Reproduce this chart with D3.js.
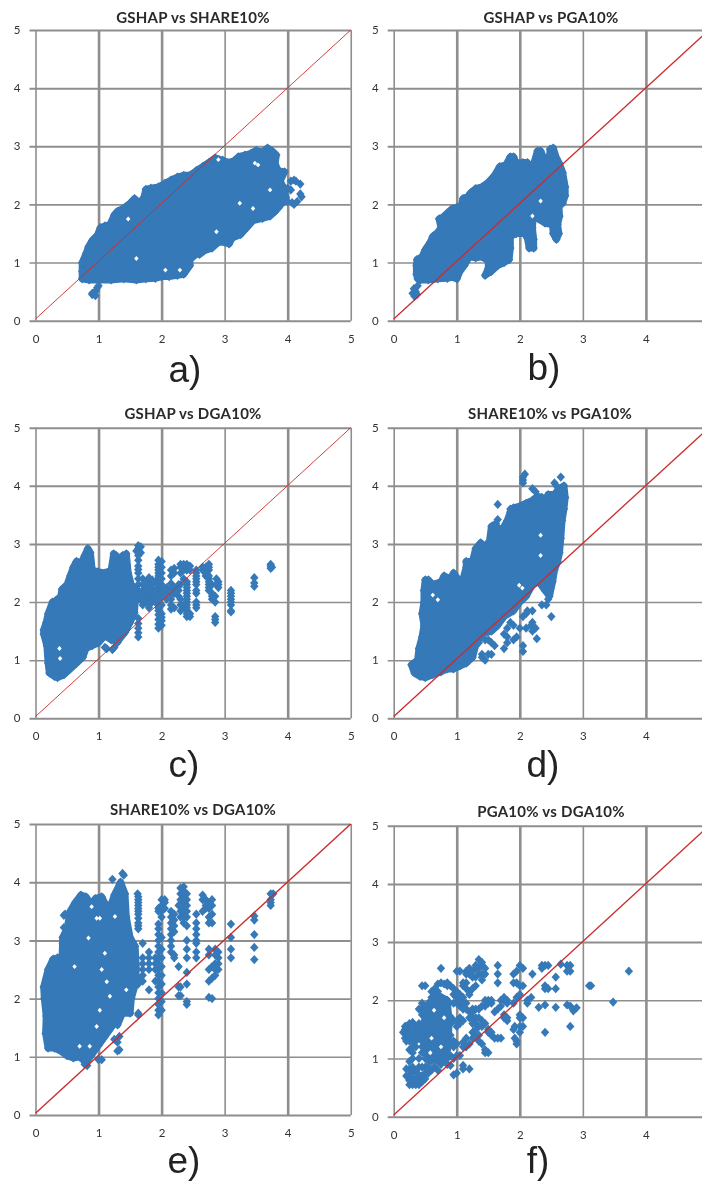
<!DOCTYPE html>
<html><head><meta charset="utf-8">
<script src="https://cdn.jsdelivr.net/npm/d3@7/dist/d3.min.js"></script>
<style>html,body{margin:0;padding:0;background:#fff;overflow:hidden}svg{display:block}</style>
</head><body>
<svg id="c" width="702" height="1182"></svg>
<script>
const titles=["GSHAP vs SHARE10%","GSHAP vs PGA10%","GSHAP vs DGA10%","SHARE10% vs PGA10%","SHARE10% vs DGA10%","PGA10% vs DGA10%"];
const letters=["a)","b)","c)","d)","e)","f)"];
const xTicks=[[0,1,2,3,4,5],[0,1,2,3,4],[0,1,2,3,4,5],[0,1,2,3,4],[0,1,2,3,4,5],[0,1,2,3,4]];
const yTicks=[0,1,2,3,4,5];
const refLine=[[0,0.03],[5,5]];

// Outlines of the saturated part of each cloud
const bodyA=[[.74,.72],[.74,.85],[.74,1],[.8,1.15],[.84,1.27],[.9,1.38],[.98,1.47],[1.03,1.6],[1.1,1.63],[1.18,1.65],[1.25,1.82],[1.3,1.88],[1.42,1.95],[1.5,2.02],[1.57,2.1],[1.65,2.02],[1.72,2.12],[1.75,2.26],[1.83,2.28],[1.95,2.3],[2.05,2.36],[2.15,2.42],[2.25,2.47],[2.35,2.5],[2.45,2.5],[2.55,2.58],[2.65,2.65],[2.75,2.72],[2.85,2.8],[2.97,2.76],[3.05,2.72],[3.15,2.75],[3.22,2.82],[3.32,2.85],[3.42,2.88],[3.5,2.93],[3.6,2.9],[3.68,2.97],[3.75,2.92],[3.82,2.85],[3.8,2.7],[3.85,2.58],[3.95,2.56],[3.88,2.4],[3.93,2.3],[3.97,2.12],[3.9,2.12],[3.88,1.98],[3.8,1.88],[3.72,1.8],[3.6,1.76],[3.45,1.72],[3.35,1.6],[3.25,1.48],[3.12,1.42],[3.07,1.32],[3,1.35],[2.9,1.35],[2.8,1.25],[2.67,1.2],[2.6,1.14],[2.55,1.15],[2.45,1.05],[2.45,.95],[2.35,.8],[2.25,.78],[2.12,.76],[2,.76],[1.9,.73],[1.75,.72],[1.6,.7],[1.4,.72],[1.2,.7],[1,.7],[.85,.7]];
const bodyB=[[.38,.72],[.36,.8],[.36,.95],[.37,1.05],[.45,1.1],[.5,1.22],[.58,1.35],[.62,1.45],[.7,1.52],[.75,1.6],[.72,1.75],[.78,1.78],[.85,1.85],[.92,1.92],[1,1.95],[1.05,1.9],[1.1,2.1],[1.17,2.13],[1.22,2.2],[1.3,2.27],[1.4,2.3],[1.5,2.38],[1.6,2.5],[1.68,2.65],[1.78,2.68],[1.85,2.82],[1.9,2.82],[1.95,2.7],[2.05,2.72],[2.12,2.72],[2.17,2.6],[2.22,2.7],[2.28,2.92],[2.33,2.92],[2.38,2.8],[2.42,2.65],[2.47,2.8],[2.48,2.95],[2.53,2.97],[2.58,2.8],[2.63,2.7],[2.68,2.55],[2.72,2.3],[2.72,2.15],[2.68,2.02],[2.62,2],[2.63,1.8],[2.6,1.65],[2.62,1.5],[2.58,1.4],[2.53,1.5],[2.52,1.65],[2.4,1.68],[2.3,1.75],[2.22,1.85],[2.2,1.6],[2.22,1.4],[2.22,1.25],[2.15,1.25],[2.12,1.42],[2.08,1.5],[1.95,1.5],[1.85,1.45],[1.85,1.25],[1.83,1.05],[1.75,1],[1.65,.95],[1.55,.85],[1.45,.78],[1.5,.9],[1.5,1.03],[1.4,1.1],[1.3,1.08],[1.2,1.1],[1.12,.95],[1.05,.85],[1,.72],[.95,.75],[.85,.73],[.7,.72],[.55,.7],[.42,.7]];
const bodyC=[[.3,.72],[.22,.78],[.2,.95],[.18,1.25],[.13,1.45],[.13,1.52],[.17,1.65],[.2,1.8],[.27,2],[.32,2.02],[.4,2.1],[.42,2.22],[.5,2.3],[.55,2.45],[.6,2.6],[.65,2.7],[.73,2.68],[.78,2.8],[.83,2.92],[.87,2.85],[.9,2.55],[1,2.52],[1.1,2.5],[1.2,2.55],[1.24,2.83],[1.28,2.8],[1.32,2.55],[1.38,2.8],[1.44,2.83],[1.47,2.5],[1.52,2.3],[1.58,2.2],[1.58,2],[1.57,1.82],[1.5,1.65],[1.42,1.48],[1.3,1.32],[1.2,1.35],[1.1,1.42],[1,1.3],[.9,1.25],[.8,1.2],[.75,1.05],[.65,.95],[.55,.85],[.45,.75],[.35,.7]];
const bodyD=[[.42,.72],[.33,.78],[.28,.92],[.38,1],[.4,1.2],[.45,1.4],[.48,1.6],[.45,1.8],[.48,2],[.48,2.2],[.5,2.38],[.55,2.38],[.62,2.3],[.75,2.35],[.8,2.45],[.9,2.4],[.95,2.5],[1.05,2.35],[1.1,2.4],[1.15,2.6],[1.15,2.7],[1.25,2.7],[1.3,2.92],[1.38,3.02],[1.45,2.95],[1.52,3.05],[1.55,3.3],[1.62,3.35],[1.65,3.2],[1.75,3.3],[1.8,3.4],[1.85,3.55],[1.9,3.62],[2,3.65],[2.1,3.7],[2.2,3.75],[2.28,3.82],[2.35,3.8],[2.42,3.7],[2.45,3.85],[2.55,3.85],[2.62,3.95],[2.7,4],[2.72,3.8],[2.7,3.6],[2.67,3.4],[2.65,3.1],[2.63,2.85],[2.6,2.7],[2.55,2.55],[2.52,2.35],[2.47,2.1],[2.4,2.2],[2.3,2.35],[2.2,2.3],[2.1,2.1],[2,2],[1.9,1.85],[1.75,1.75],[1.65,1.6],[1.55,1.5],[1.4,1.45],[1.3,1.25],[1.25,1.05],[1.15,.95],[1.05,.9],[.95,.85],[.85,.85],[.75,.8],[.62,.75],[.5,.7]];
const bodyE=[[.2,1.15],[.16,1.4],[.17,1.7],[.14,2],[.13,2.2],[.2,2.5],[.28,2.68],[.35,2.7],[.42,2.7],[.43,2.95],[.43,3.05],[.5,3.2],[.55,3.5],[.63,3.65],[.72,3.78],[.8,3.75],[.88,3.62],[.95,3.72],[1.05,3.75],[1.12,3.6],[1.2,3.62],[1.25,3.78],[1.35,4],[1.42,3.8],[1.44,3.4],[1.5,3.05],[1.58,2.9],[1.6,2.5],[1.57,2.2],[1.52,2],[1.5,1.75],[1.38,1.75],[1.3,1.55],[1.25,1.6],[1.2,1.5],[1.1,1.35],[1,1.2],[.9,1.05],[.8,.9],[.7,1],[.6,.98],[.5,1.02],[.4,1.1],[.3,1.15]];
const bodyF=[[.5,1.1],[.45,1.5],[.55,1.85],[.68,2.1],[.85,2],[.88,1.6],[.85,1.15],[.72,.95],[.6,1]];

// Individual markers, as [x, [y, y, ...]] columns
const ptsA=[[.9,[.45,.47]],[.93,[.48]],[.95,[.43]],[.96,[.52]],[.98,[.57]],[1,[.6]],[3.95,[2.05]],[4,[2.05,2.28]],[4.05,[2.25,2.4]],[4.07,[2.03]],[4.1,[2,2.42]],[4.13,[2.4]],[4.15,[2.05]],[4.2,[2.18,2.35]],[4.22,[2.13]]];
const ptsB=[[.3,[.47]],[.32,[.55]],[.33,[.42]],[.35,[.5]],[.37,[.45]],[.38,[.6]]];
const ptsC=[[1.1,[1.22]],[1.13,[1.2]],[1.22,[1.18]],[1.25,[1.22]],[1.3,[1.3]],[1.6,[2.88]],[1.63,[1.4,1.47,1.55,1.63,1.72,2.05,2.1,2.2,2.3,2.4,2.5,2.56,2.62,2.72,2.8,2.85,2.92,2.97]],[1.67,[2.85,2.95,2.05,2.15]],[1.7,[1.95,2,2.1,2.2,2.3,2.4]],[1.75,[2,2.05,2.12,2.2,2.28,2.35]],[1.8,[1.9,1.96,2.04,2.1,2.2,2.3,2.42]],[1.85,[2,2.08,2.15,2.22,2.3,2.38]],[1.9,[2,2.1,2.2,2.35]],[1.95,[1.55,1.62,1.7,1.78,1.85,1.9,1.95,2.05,2.1,2.15,2.25,2.3,2.35,2.4,2.45,2.5,2.55,2.6,2.65,2.72]],[2,[1.6,1.68,1.74,1.8,1.95,2.1,2.2,2.3,2.4,2.5,2.6,2.7]],[2.08,[2.05,2.15,2.25]],[2.15,[1.88,1.95,2.05,2.12,2.22,2.32,2.45,2.55]],[2.2,[1.9,2.15,2.25,2.5,2.58]],[2.27,[2.1,2.2,2.3]],[2.3,[1.85,1.95,2.05,2.3,2.5,2.6,2.65]],[2.35,[1.9,1.95,2.4,2.55,2.65]],[2.4,[1.75,1.8,1.85,1.9,1.95,2,2.05,2.1,2.15,2.2,2.25,2.3,2.35,2.55,2.65]],[2.45,[1.75,1.8,2.55,2.62]],[2.55,[1.9,1.95,2,2.15,2.2,2.3,2.35,2.4,2.45,2.5,2.55]],[2.65,[2.55,2.6]],[2.7,[2.45,2.5,2.55,2.6]],[2.75,[2.2,2.25,2.3,2.35,2.4,2.45,2.55,2.6,2.65]],[2.8,[2.05,2.1,2.15,2.3]],[2.85,[1.65,1.7,1.75,2,2.1]],[2.87,[2.3,2.4]],[2.9,[2.25,2.3,2.35]],[3.1,[1.83,1.85,1.95,2,2.05,2.1,2.15,2.2]],[3.47,[2.27,2.33,2.42]],[3.73,[2.58,2.62,2.65]],[3.75,[2.6]]];
const ptsD=[[1.35,[1.3]],[1.4,[1.05,1.1]],[1.45,[1,1.35]],[1.5,[1.1,1.35]],[1.55,[1.1,1.3]],[1.6,[1.25]],[1.65,[3.42,3.68]],[1.75,[1.2,1.45]],[1.8,[1.3,1.4,1.55]],[1.85,[1.65,3.6]],[1.9,[1.35,1.6]],[1.95,[1.4]],[2,[1.55]],[2.05,[1.15,1.25,1.75,4.05,4.1,4.15]],[2.08,[4.2]],[2.1,[1.55,1.8]],[2.12,[1.85]],[2.18,[1.6]],[2.2,[1.5,1.65,1.85,3.95]],[2.25,[1.55,3.9]],[2.27,[1.37]],[2.35,[1.95]],[2.42,[1.95]],[2.45,[2.05]],[2.5,[1.75]],[2.55,[2.6,4.05]],[2.58,[4]],[2.65,[4.15]]];
const ptsE=[[.45,[3.22,3.43]],[.47,[3.45]],[.78,[.87]],[.82,[.85]],[1,[.95]],[1.05,[.95]],[1.22,[4.05]],[1.25,[1.3]],[1.3,[1.1,1.25]],[1.33,[1.12,1.35]],[1.38,[4.15]],[1.4,[3.8,4.12]],[1.62,[3.8]],[1.63,[1.72,1.75,2.25,2.35,3.2,3.25,3.3,3.38,3.45,3.5,3.55,3.6,3.65,3.7,3.75]],[1.7,[2.3,2.4,2.5,2.6,2.7,2.95]],[1.8,[2.15,2.5,2.6,2.7,2.8]],[1.9,[2.3,2.5,2.6,2.7]],[1.95,[1.72,1.8,1.9,2,2.1,2.2,2.3,2.4,2.5,2.6,2.7,2.8,2.9,3,3.1,3.2,3.28,3.5,3.55]],[2,[1.8,1.95,2.1,2.25,2.4,2.55,2.7,2.85,3.05,3.4,3.5,3.6,3.7]],[2.05,[3.55,3.65,3.7]],[2.15,[2.8,2.9,3,3.1,3.2,3.3,3.4,3.5]],[2.2,[2.7,2.75,3.15,3.25,3.35,3.45]],[2.27,[2.05,2.2,2.55,3.6]],[2.3,[2.05,2.2,3.4,3.5,3.6,3.7,3.8,3.9]],[2.35,[3.3,3.4,3.5,3.6,3.7,3.78,3.85,3.92]],[2.4,[1.9,1.95,2.25,2.45,2.7,2.85,3,3.25,3.4,3.5,3.6,3.7,3.8]],[2.55,[2.7,2.8,2.95,3,3.1,3.2,3.3,3.45]],[2.65,[3.5,3.7,3.78]],[2.7,[3.55,3.6,3.7]],[2.75,[2.02,2.3,2.5,2.75,2.85,3.3,3.4,3.55,3.65]],[2.8,[2,2.35,2.55,3.3,3.45,3.6,3.7]],[2.85,[2.4,2.5,2.6,2.75,2.85]],[2.9,[2.5,2.6,2.7,2.8]],[3.1,[2.7,2.85,3.05,3.28]],[3.47,[2.67,2.88,3.1,3.35,3.42]],[3.73,[3.6,3.65,3.7,3.8]],[3.77,[3.8]]];
const ptsF=[[.15,[1.45]],[.18,[1.35,1.5,1.55]],[.2,[.7,.82,1.3,1.45,1.55]],[.25,[.55,.62,.72,.82,.95,1.15,1.3,1.4,1.5,1.6]],[.3,[.55,.65,.75,.85,1,1.1,1.2,1.3,1.4,1.5,1.62]],[.35,[.55,.65,.8,1.2,1.3,1.4,1.5,1.55]],[.4,[.55,.62,.72,.85,1,1.35,1.45,1.55,1.6,1.85]],[.45,[.6,.7,.85,1.1,1.2,1.3,1.4,1.5,1.6,1.75,1.85,1.95,2.25]],[.5,[.65,.75,.85,1,1.1,1.2,1.3,1.45,1.55,1.65,1.75,1.9,2.25]],[.55,[.75,.85,.95,1.1,1.2,1.35,1.45,1.55,1.65,1.75,1.85,1.95]],[.6,[.8,.95,1.05,1.15,1.25,1.35,1.45,1.55,1.65,1.75,1.85,1.95,2.05,2.15]],[.65,[.85,1,1.1,1.2,1.3,1.4,1.5,1.6,1.7,1.8,1.9,2,2.1,2.2]],[.7,[.8,.95,1.1,1.2,1.35,1.45,1.55,1.65,1.75,1.85,1.95,2.05,2.15,2.28]],[.75,[.9,1,1.15,1.3,1.4,1.5,1.6,1.7,1.85,1.95,2.05,2.3,2.55]],[.8,[.95,1.05,1.2,1.3,1.45,1.55,1.75,1.9,2,2.28]],[.85,[.9,1,1.25,1.4,1.5,1.65,1.8,1.95,2.25,2.3]],[.9,[.88,1.05,1.25,1.4,1.6,1.72,2.25]],[.95,[.72,1,1.2,1.3,1.65,1.95,2.1,2.2]],[1,[.75,1.05,1.25,1.55,1.65,1.95,2.05,2.15,2.5]],[1.05,[1.05,1.6,1.7,1.9,2,2.1,2.5]],[1.1,[.82,.88,1.2,1.28,1.65,1.85,1.95,2.05,2.25,2.3]],[1.15,[1.2,1.35,1.85,1.95,2.2,2.3,2.45,2.5]],[1.2,[.82,1.25,1.7,1.8,2.1,2.15,2.45,2.5,2.55]],[1.25,[1.35,1.45,1.6,1.7,1.8,1.85,2.2,2.4,2.5]],[1.3,[1.4,1.5,1.6,1.7,1.85,2.25,2.4,2.55,2.6]],[1.35,[1.3,1.4,1.55,1.7,1.85,2.45,2.55,2.7]],[1.4,[1.25,1.55,1.65,1.9,2.35,2.45,2.6,2.65]],[1.45,[1.1,1.15,1.6,1.9,2,2.45,2.55]],[1.5,[1.1,1.45,1.5,1.95,2]],[1.55,[1.4,1.45,1.95,2]],[1.6,[1.35,1.8]],[1.65,[1.35,1.85,2.3,2.45,2.6]],[1.7,[1.35,1.9,2]],[1.75,[1.7,1.75,2,2.05]],[1.8,[1.65,1.7,1.95,2]],[1.9,[1.5,1.95,2.3,2.45]],[1.92,[1.35,1.55]],[1.95,[1.25,1.3,2.05,2.3,2.5]],[2,[1.45,1.55,1.7,1.75,2.1,2.25,2.6]],[2.05,[1.55,1.7,2.25,2.55]],[2.12,[1.95,2]],[2.18,[2.05]],[2.2,[2.45]],[2.3,[1.88]],[2.35,[2.55,2.6]],[2.4,[1.45,1.92,2.2,2.25,2.6]],[2.45,[2.2,2.6]],[2.57,[1.88,2.2,2.4]],[2.65,[2.62]],[2.75,[1.92,2.5,2.6]],[2.8,[1.55,1.9,2.5,2.6]],[2.85,[1.82]],[2.9,[1.87]],[3.1,[2.25]],[3.13,[2.25]],[3.48,[1.97]],[3.73,[2.5]]];

// Small uncovered specks inside each cloud
const gapsA=[[3.48,2.71],[3.53,2.68],[1.6,1.07],[3.24,2.02],[3.45,1.93],[3.72,2.25],[2.87,1.53],[2.06,.87],[2.29,.87],[1.47,1.75],[2.9,2.77]];
const gapsB=[[2.33,2.06],[2.2,1.8]];
const gapsC=[[.38,1.2],[.39,1.03]];
const gapsD=[[.62,2.12],[.7,2.04],[1.99,2.29],[2.04,2.24],[2.33,3.15],[2.33,2.8]];
const gapsE=[[.97,3.38],[1.02,3.38],[1.13,2.29],[1.05,2.5],[.86,1.18],[.97,1.52],[.7,1.18],[.84,3.04],[1.1,2.78],[.89,3.58],[1.26,3.41],[1.18,2.04],[1.02,1.8],[1.44,2.15],[.62,2.55]];
const gapsF=[[.64,1.83],[.75,1.2],[.6,1.35],[.8,1.7],[.58,1.1]];

const bodies=[bodyA,bodyB,bodyC,bodyD,bodyE,bodyF];
const columns=[ptsA,ptsB,ptsC,ptsD,ptsE,ptsF];
const gaps=[gapsA,gapsB,gapsC,gapsD,gapsE,gapsF];

// Layout (separate from the data)
const layout=[
 {x0:35.5,y0:320.7,y5:30,tx:193,ty:23,lx:185,ly:382,rw:.9},
 {x0:393.7,y0:320.7,y5:30,tx:551,ty:23,lx:544,ly:380,rw:1.3},
 {x0:35.5,y0:718.3,y5:427.7,tx:193,ty:419,lx:184,ly:777,rw:.9},
 {x0:393.7,y0:718.3,y5:427.7,tx:550,ty:419,lx:543,ly:777,rw:1.3},
 {x0:35.5,y0:1115,y5:824,tx:193,ty:815,lx:184,ly:1173,rw:1.4},
 {x0:393.7,y0:1116.7,y5:825.7,tx:551,ty:817,lx:538,ly:1173,rw:1.3}];
const UX=63.05, BLUE="#3579b8", GRID="#8e8e8e", R=4.2;
const vW={0:1.6,1:2.6,2:2.6,3:1.6,4:2.6,5:1.6}, hW={0:2,1:1.6,2:1.6,3:2,4:2,5:2};

const svg=d3.select("#c");
const defs=svg.append("defs");
defs.append("filter").attr("id","soft").attr("x","-2%").attr("y","-2%").attr("width","104%").attr("height","104%")
  .append("feGaussianBlur").attr("stdDeviation",.45);
const root=svg.append("g").attr("filter","url(#soft)");
const diamond={draw(c,size){const r=Math.sqrt(size);c.moveTo(0,-r*1.1);c.lineTo(r,0);c.lineTo(0,r*1.1);c.lineTo(-r,0);c.closePath();}};
const sym=d3.symbol().type(diamond).size(R*R);
const gapSym=d3.symbol().type(diamond).size(5);

layout.forEach((L,i)=>{
  const x=d3.scaleLinear().domain([0,5]).range([L.x0,L.x0+5*UX]);
  const y=d3.scaleLinear().domain([0,5]).range([L.y0,L.y5]);
  const g=root.append("g");
  const right=Math.min(702,x(5));
  const ax=g.append("g").attr("transform",`translate(0,${L.y0})`)
    .call(d3.axisBottom(x).tickValues(xTicks[i]).tickFormat(d3.format("d")).tickSize(0).tickPadding(14));
  ax.select(".domain").remove();
  ax.selectAll(".tick line").attr("y2",L.y5-L.y0).attr("stroke",GRID).attr("stroke-width",d=>vW[d]);
  const ay=g.append("g").attr("transform",`translate(${L.x0},0)`)
    .call(d3.axisLeft(y).tickValues(yTicks).tickFormat(d3.format("d")).tickSize(6).tickPadding(9));
  ay.select(".domain").remove();
  ay.selectAll(".tick line").attr("x2",right-L.x0).attr("x1",-6).attr("stroke",GRID).attr("stroke-width",d=>hW[d]);
  g.selectAll(".tick text").attr("font-family","Lato").attr("font-size",11.5).attr("fill","#333");

  const body=bodies[i];
  g.append("path").attr("d",d3.line().x(d=>x(d[0])).y(d=>y(d[1])).curve(d3.curveLinearClosed)(body))
    .attr("fill",BLUE).attr("stroke",BLUE).attr("stroke-width",7).attr("stroke-linejoin","round");
  const pts=body.concat(columns[i].flatMap(c=>c[1].map(v=>[c[0],v])));
  g.append("g").selectAll("path").data(pts).join("path")
    .attr("d",sym).attr("transform",d=>`translate(${x(d[0])},${y(d[1])})`).attr("fill",BLUE);
  g.append("g").selectAll("path").data(gaps[i]).join("path")
    .attr("d",gapSym).attr("transform",d=>`translate(${x(d[0])},${y(d[1])})`).attr("fill","#fff");

  g.append("path").attr("d",d3.line().x(d=>x(d[0])).y(d=>y(d[1]))(refLine))
    .attr("fill","none").attr("stroke","#cc2b2b").attr("stroke-width",L.rw);

  g.append("text").attr("x",L.tx).attr("y",L.ty).attr("text-anchor","middle")
    .attr("font-family","Lato").attr("font-weight",700).attr("font-size",15).attr("letter-spacing",.25).attr("fill","#2a2a2a").text(titles[i]);
  g.append("text").attr("x",L.lx).attr("y",L.ly).attr("text-anchor","middle")
    .attr("font-family","Liberation Sans").attr("font-size",37).attr("fill","#222").text(letters[i]);
});
</script>
</body></html>
